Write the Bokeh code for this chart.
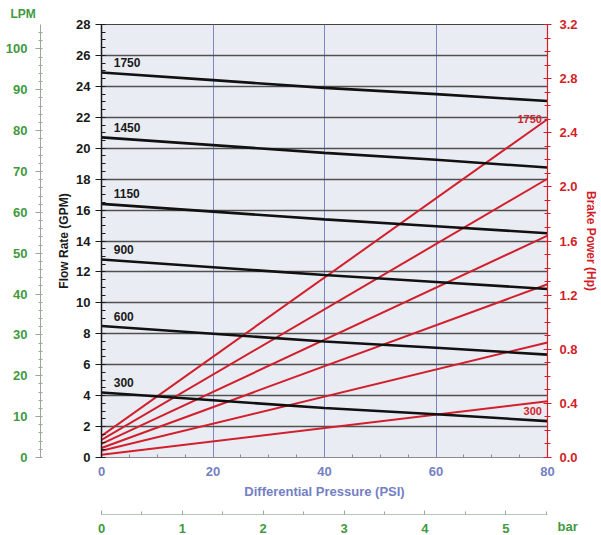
import numpy as np
from bokeh.plotting import figure
from bokeh.models import Range1d, LinearAxis, FixedTicker, Title, NumeralTickFormatter
from bokeh.core.properties import value
from bokeh.embed import file_html
from bokeh.resources import INLINE

# ---- data ----
speeds = ["1750", "1450", "1150", "900", "600", "300"]
psi = [0, 20, 40, 60, 80]
flow_1750 = [24.9, 24.4, 23.9, 23.5, 23.05]
flow_1450 = [20.7, 20.2, 19.7, 19.25, 18.75]
flow_1150 = [16.4, 15.9, 15.4, 14.95, 14.5]
flow_900 = [12.8, 12.3, 11.8, 11.35, 10.9]
flow_600 = [8.5, 8.0, 7.5, 7.1, 6.65]
flow_300 = [4.2, 3.7, 3.2, 2.8, 2.35]
flows = [flow_1750, flow_1450, flow_1150, flow_900, flow_600, flow_300]

hp_psi = [0, 80]
hp_1750 = [0.16, 2.50]
hp_1450 = [0.13, 2.06]
hp_1150 = [0.10, 1.64]
hp_900 = [0.07, 1.28]
hp_600 = [0.05, 0.85]
hp_300 = [0.02, 0.415]
hps = [hp_1750, hp_1450, hp_1150, hp_900, hp_600, hp_300]

gpm_ticks = list(range(0, 29, 2))
hp_ticks = [0.0, 0.4, 0.8, 1.2, 1.6, 2.0, 2.4, 2.8, 3.2]
lpm_ticks = list(range(0, 101, 10))
psi_ticks = [0, 20, 40, 60, 80]
bar_ticks = [0, 1, 2, 3, 4, 5]

GPM_TO_LPM = 3.78541
PSI_TO_BAR = 1 / 14.5038

FONT = "Liberation Sans"
BLACK = "#1a1a1a"
RED = "#d21f2c"
GREEN = "#3f9a3f"
BLUE = "#7480c4"

p = figure(width=601, height=535, output_backend="svg", toolbar_location=None,
           x_range=Range1d(0, 80), y_range=Range1d(0, 28),
           min_border_left=101, min_border_right=54, min_border_top=24, min_border_bottom=77)
p.extra_y_ranges = {"hp": Range1d(0, 3.2), "lpm": Range1d(0, 28 * GPM_TO_LPM)}
p.extra_x_ranges = {"bar": Range1d(0, 80 * PSI_TO_BAR)}

p.background_fill_color = "#e9ecf2"
p.border_fill_color = "white"
p.outline_line_color = "#444444"
p.outline_line_width = 1

# grids
p.ygrid.ticker = FixedTicker(ticks=gpm_ticks)
p.ygrid.grid_line_color = "#505050"
p.ygrid.grid_line_width = 1.5
p.xgrid.ticker = FixedTicker(ticks=[20, 40, 60])
p.xgrid.grid_line_color = "#7f86c6"
p.xgrid.grid_line_width = 1

def style_axis(ax, color, size="13px"):
    ax.major_label_text_font = FONT
    ax.major_label_text_font_style = "bold"
    ax.major_label_text_font_size = size
    ax.major_label_text_color = color
    ax.axis_label_text_font = FONT
    ax.axis_label_text_font_style = "bold"
    ax.axis_label_text_color = color

# left GPM axis
ya = p.yaxis[0]
ya.ticker = FixedTicker(ticks=gpm_ticks, minor_ticks=list(np.arange(0, 28.01, 0.5)))
style_axis(ya, BLACK)
ya.axis_label = "\nFlow Rate (GPM)"
ya.axis_label_text_font_size = "12px"
ya.axis_label_text_line_height = 1.0
ya.axis_label_standoff = 2
ya.axis_line_color = BLACK
ya.axis_line_width = 1.5
ya.major_tick_line_color = BLACK
ya.major_tick_out = 6
ya.major_tick_in = 0
ya.minor_tick_line_color = BLACK
ya.minor_tick_out = 0
ya.minor_tick_in = 4

# LPM axis (outer left)
la = LinearAxis(y_range_name="lpm",
                ticker=FixedTicker(ticks=lpm_ticks, minor_ticks=list(range(0, 106, 2))))
style_axis(la, GREEN)
la.axis_line_color = "#9aa79a"
la.major_tick_line_color = "#9aa79a"
la.minor_tick_line_color = "#9aa79a"
la.major_tick_out = 5
la.major_tick_in = 0
la.minor_tick_out = 2
la.minor_tick_in = 2
la.major_label_standoff = 8
p.add_layout(la, "left")

# right HP axis
ra = LinearAxis(y_range_name="hp", axis_label="Brake Power (Hp)",
                ticker=FixedTicker(ticks=hp_ticks, minor_ticks=[round(i * 0.1, 1) for i in range(33)]),
                formatter=NumeralTickFormatter(format="0.0"))
style_axis(ra, RED)
ra.axis_label_text_font_size = "12px"
ra.axis_label_standoff = 3
ra.axis_line_color = RED
ra.axis_line_width = 1.2
ra.major_tick_line_color = RED
ra.major_tick_in = 4
ra.major_tick_out = 4
ra.minor_tick_line_color = RED
ra.minor_tick_in = 3
ra.minor_tick_out = 3
ra.major_label_standoff = 8
p.add_layout(ra, "right")

# bottom PSI axis
xa = p.xaxis[0]
xa.ticker = FixedTicker(ticks=psi_ticks, minor_ticks=list(range(0, 81, 5)))
style_axis(xa, BLUE)
xa.axis_label = "Differential Pressure (PSI)\n"
xa.axis_label_text_font_size = "13px"
xa.axis_label_text_line_height = 0.87
xa.axis_label_standoff = 5
xa.axis_line_color = "#8a8a8a"
xa.major_tick_line_color = None
xa.minor_tick_line_color = "#8a8a8a"
xa.minor_tick_in = 3
xa.minor_tick_out = 0
xa.major_label_standoff = 3

# bar axis
ba = LinearAxis(x_range_name="bar",
                ticker=FixedTicker(ticks=bar_ticks, minor_ticks=[i * 0.5 for i in range(12)]))
style_axis(ba, GREEN)
ba.axis_line_color = "#b5c8b5"
ba.major_tick_line_color = "#9aa79a"
ba.major_tick_in = 4
ba.major_tick_out = 0
ba.minor_tick_line_color = "#9aa79a"
ba.minor_tick_in = 3
ba.minor_tick_out = 0
ba.major_label_standoff = 9
p.add_layout(ba, "below")

# red brake power lines
for name, hp in zip(speeds, hps):
    p.line(hp_psi, hp, y_range_name="hp", line_color=RED, line_width=2)

# black flow lines
for name, fl in zip(speeds, flows):
    p.line(psi, fl, line_color="#111111", line_width=2.6)
    p.text(x=[2.2], y=[fl[0] + 0.35], text=[name], text_font=value(FONT),
           text_font_style="bold", text_font_size="12px", text_color=BLACK,
           text_baseline="bottom", text_align="left")

# red curve labels
p.text(x=[79], y=[hp_1750[-1] - 0.03], text=[speeds[0]], y_range_name="hp",
       text_font=value(FONT), text_font_style="bold", text_font_size="11px",
       text_color=RED, text_baseline="bottom", text_align="right")
p.text(x=[79], y=[hp_300[-1] - 0.04], text=[speeds[-1]], y_range_name="hp",
       text_font=value(FONT), text_font_style="bold", text_font_size="11px",
       text_color=RED, text_baseline="top", text_align="right")

# unit labels outside the frame
p.add_layout(Title(text="LPM", align="left", offset=-91, standoff=7,
                   text_font=FONT, text_font_style="bold", text_font_size="12px",
                   text_color=GREEN), "above")
p.add_layout(Title(text="bar", align="left", offset=456, standoff=-34, vertical_align="top",
                   text_font=FONT, text_font_style="bold", text_font_size="13px",
                   text_color=GREEN), "below")

open("out.html", "w").write(file_html(p, INLINE))
